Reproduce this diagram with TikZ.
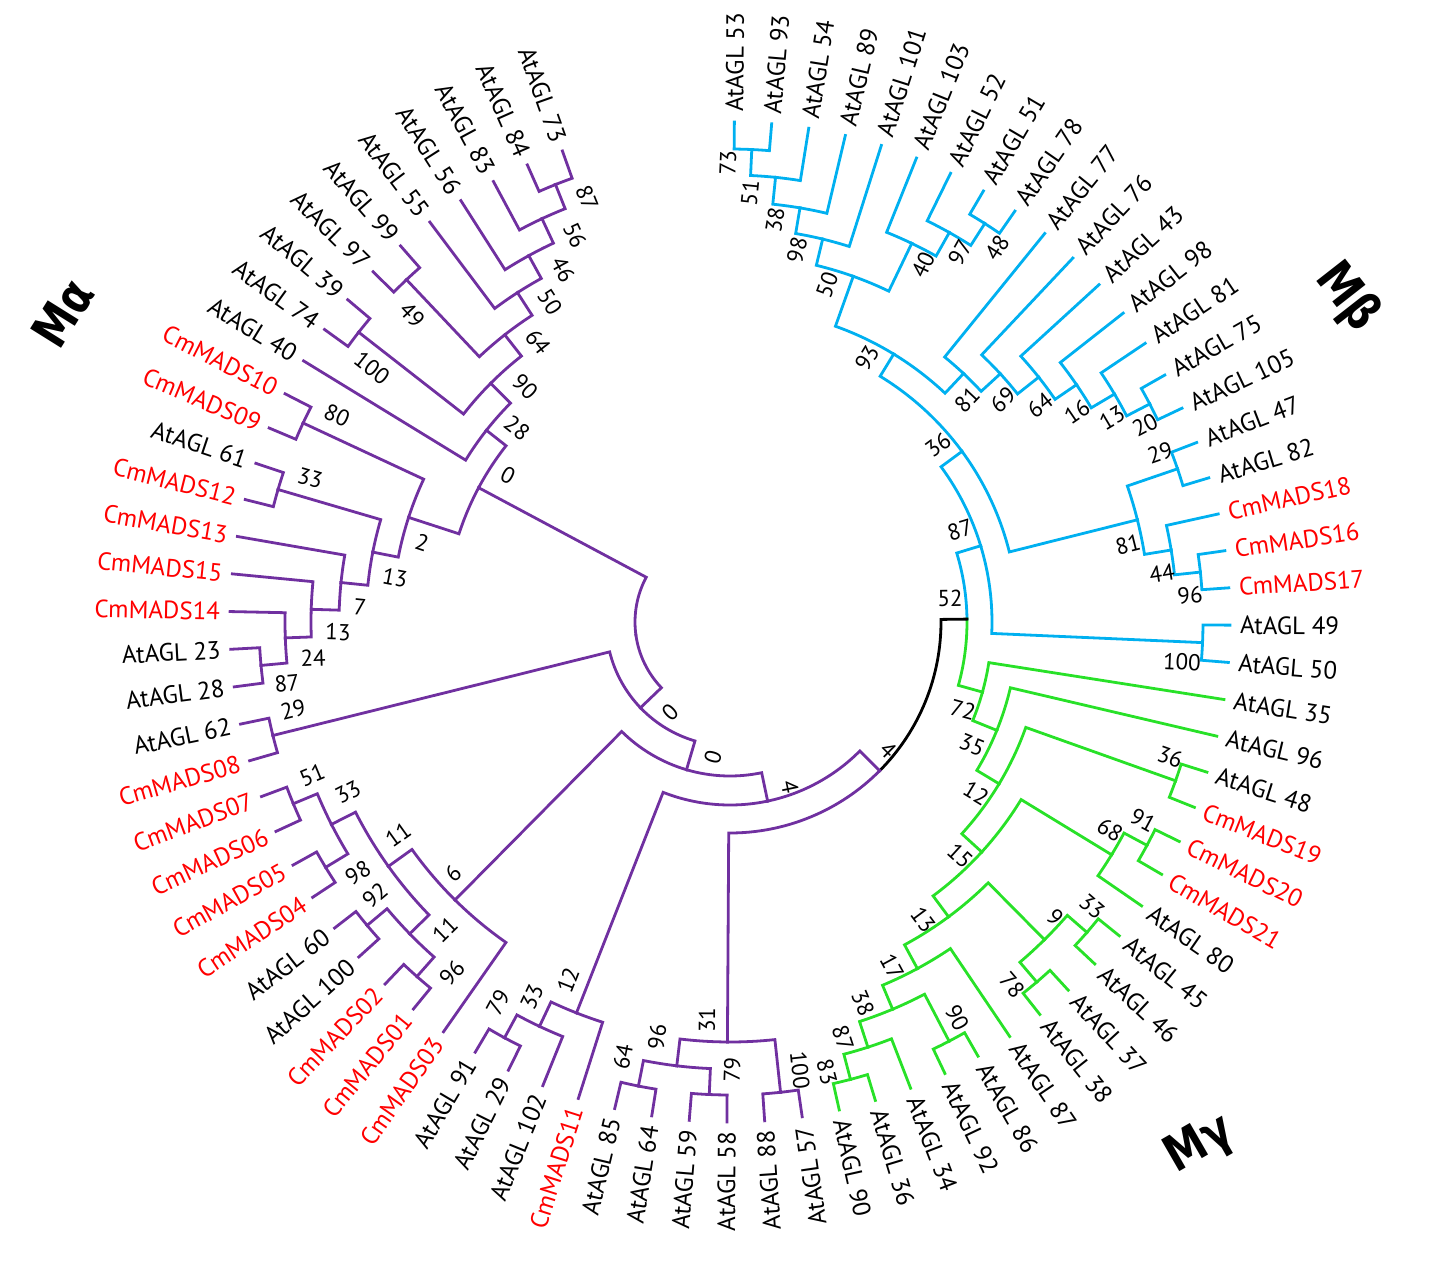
\documentclass[tikz,border=0pt]{standalone}
\usepackage{fontspec}
\setmainfont{PT Sans}
\newfontfamily\grpfont{DejaVu Sans}[FakeStretch=0.82]
\definecolor{pur}{RGB}{112,48,160}
\definecolor{blu}{RGB}{0,176,240}
\definecolor{grn}{RGB}{40,225,40}
\definecolor{cmred}{RGB}{255,0,0}
\tikzset{
  branch/.style={line width=2.8pt, line cap=rect},
  pb/.style={branch, draw=pur},
  bb/.style={branch, draw=blu},
  gb/.style={branch, draw=grn},
  kb/.style={branch, draw=black},
  leaflab/.style={inner sep=0pt, font=\fontsize{25}{30}\selectfont},
  bslab/.style={inner sep=0pt, font=\fontsize{23}{27}\selectfont},
  grplab/.style={inner sep=0pt, font=\grpfont\bfseries\fontsize{50}{60}\selectfont}
}
% node bookkeeping: angle and radius (centre of the circle is the origin)
\newcommand\setnode[3]{%
  \expandafter\xdef\csname nA@#1\endcsname{#2}%
  \expandafter\xdef\csname nR@#1\endcsname{#3}%
  \coordinate (#1) at (#2:#3);}
\newcommand\leaf[4]{%
  \pgfmathsetmacro\la{#1<40 ? 89.5-4.279*#1 : -81.7-4.326*(#1-40)}%
  \setnode{#2}{\la}{500}%
  \ifnum#1<40\relax
    \node[leaflab,text=#4,anchor=west,rotate=\la] (t#2) at (\la:510) {#3};%
  \else
    \pgfmathsetmacro\lr{\la+180}%
    \node[leaflab,text=#4,anchor=east,rotate=\lr] (t#2) at (\la:510) {#3};%
  \fi}
\newcommand\inner[4]{%
  \pgfmathsetmacro\ia{(\csname nA@#2\endcsname+\csname nA@#3\endcsname)/2}%
  \setnode{#1}{\ia}{#4}}
\newcommand\conn[3]{%
  \edef\myA{\csname nA@#2\endcsname}%
  \edef\myB{\csname nA@#3\endcsname}%
  \edef\myR{\csname nR@#2\endcsname}%
  \draw[#1] (#2) arc[start angle=\myA, end angle=\myB, radius=\myR] -- (#3);}
\newcommand\bs[4]{%
  \edef\myA{\csname nA@#1\endcsname}%
  \pgfmathsetmacro\br{\myA < -90 ? \myA+180 : \myA}%
  \node[bslab,rotate=\br] (bs#1) at (#3,-#4) {#2};}
\begin{document}
\begin{tikzpicture}[x=1pt,y=1pt]
\useasboundingbox (0,0) rectangle (1456,-1285);
\begin{scope}[shift={(730,-622)}]
% ---------------- leaves
\leaf{0}{L53}{AtAGL 53}{black}
\leaf{1}{L93}{AtAGL 93}{black}
\leaf{2}{L54}{AtAGL 54}{black}
\leaf{3}{L89}{AtAGL 89}{black}
\leaf{4}{L101}{AtAGL 101}{black}
\leaf{5}{L103}{AtAGL 103}{black}
\leaf{6}{L52}{AtAGL 52}{black}
\leaf{7}{L51}{AtAGL 51}{black}
\leaf{8}{L78}{AtAGL 78}{black}
\leaf{9}{L77}{AtAGL 77}{black}
\leaf{10}{L76}{AtAGL 76}{black}
\leaf{11}{L43}{AtAGL 43}{black}
\leaf{12}{L98}{AtAGL 98}{black}
\leaf{13}{L81}{AtAGL 81}{black}
\leaf{14}{L75}{AtAGL 75}{black}
\leaf{15}{L105}{AtAGL 105}{black}
\leaf{16}{L47}{AtAGL 47}{black}
\leaf{17}{L82}{AtAGL 82}{black}
\leaf{18}{C18}{CmMADS18}{cmred}
\leaf{19}{C16}{CmMADS16}{cmred}
\leaf{20}{C17}{CmMADS17}{cmred}
\leaf{21}{L49}{AtAGL 49}{black}
\leaf{22}{L50}{AtAGL 50}{black}
\leaf{23}{L35}{AtAGL 35}{black}
\leaf{24}{L96}{AtAGL 96}{black}
\leaf{25}{L48}{AtAGL 48}{black}
\leaf{26}{C19}{CmMADS19}{cmred}
\leaf{27}{C20}{CmMADS20}{cmred}
\leaf{28}{C21}{CmMADS21}{cmred}
\leaf{29}{L80}{AtAGL 80}{black}
\leaf{30}{L45}{AtAGL 45}{black}
\leaf{31}{L46}{AtAGL 46}{black}
\leaf{32}{L37}{AtAGL 37}{black}
\leaf{33}{L38}{AtAGL 38}{black}
\leaf{34}{L87}{AtAGL 87}{black}
\leaf{35}{L86}{AtAGL 86}{black}
\leaf{36}{L92}{AtAGL 92}{black}
\leaf{37}{L34}{AtAGL 34}{black}
\leaf{38}{L36}{AtAGL 36}{black}
\leaf{39}{L90}{AtAGL 90}{black}
\leaf{40}{L57}{AtAGL 57}{black}
\leaf{41}{L88}{AtAGL 88}{black}
\leaf{42}{L58}{AtAGL 58}{black}
\leaf{43}{L59}{AtAGL 59}{black}
\leaf{44}{L64}{AtAGL 64}{black}
\leaf{45}{L85}{AtAGL 85}{black}
\leaf{46}{C11}{CmMADS11}{cmred}
\leaf{47}{L102}{AtAGL 102}{black}
\leaf{48}{L29}{AtAGL 29}{black}
\leaf{49}{L91}{AtAGL 91}{black}
\leaf{50}{C03}{CmMADS03}{cmred}
\leaf{51}{C01}{CmMADS01}{cmred}
\leaf{52}{C02}{CmMADS02}{cmred}
\leaf{53}{L100}{AtAGL 100}{black}
\leaf{54}{L60}{AtAGL 60}{black}
\leaf{55}{C04}{CmMADS04}{cmred}
\leaf{56}{C05}{CmMADS05}{cmred}
\leaf{57}{C06}{CmMADS06}{cmred}
\leaf{58}{C07}{CmMADS07}{cmred}
\leaf{59}{C08}{CmMADS08}{cmred}
\leaf{60}{L62}{AtAGL 62}{black}
\leaf{61}{L28}{AtAGL 28}{black}
\leaf{62}{L23}{AtAGL 23}{black}
\leaf{63}{C14}{CmMADS14}{cmred}
\leaf{64}{C15}{CmMADS15}{cmred}
\leaf{65}{C13}{CmMADS13}{cmred}
\leaf{66}{C12}{CmMADS12}{cmred}
\leaf{67}{L61}{AtAGL 61}{black}
\leaf{68}{C09}{CmMADS09}{cmred}
\leaf{69}{C10}{CmMADS10}{cmred}
\leaf{70}{L40}{AtAGL 40}{black}
\leaf{71}{L74}{AtAGL 74}{black}
\leaf{72}{L39}{AtAGL 39}{black}
\leaf{73}{L97}{AtAGL 97}{black}
\leaf{74}{L99}{AtAGL 99}{black}
\leaf{75}{L55}{AtAGL 55}{black}
\leaf{76}{L56}{AtAGL 56}{black}
\leaf{77}{L83}{AtAGL 83}{black}
\leaf{78}{L84}{AtAGL 84}{black}
\leaf{79}{L73}{AtAGL 73}{black}
% ---------------- internal nodes (name, child, child, radius)
% M-beta
\inner{b73}{L53}{L93}{473}
\inner{b51}{b73}{L54}{447}
\inner{b38}{b51}{L89}{420}
\inner{b98}{b38}{L101}{394}
\inner{b48}{L51}{L78}{473}
\inner{b97}{L52}{b48}{447}
\inner{b40}{L103}{b97}{420}
\inner{b50}{b98}{b40}{367}
\inner{b20}{L75}{L105}{473}
\inner{b13}{L81}{b20}{447}
\inner{b16}{L98}{b13}{420}
\inner{b64}{L43}{b16}{394}
\inner{b69}{L76}{b64}{367}
\inner{b81}{L77}{b69}{341}
\inner{b93}{b50}{b81}{314}
\inner{b29}{L47}{L82}{473}
\inner{b96}{C16}{C17}{473}
\inner{b44}{C18}{b96}{447}
\inner{b81r}{b29}{b44}{420}
\inner{b36}{b93}{b81r}{288}
\inner{b100}{L49}{L50}{473}
\inner{b87}{b36}{b100}{262}
% M-gamma
\inner{g91}{C20}{C21}{473}
\inner{g68}{g91}{L80}{447}
\inner{g36}{L48}{C19}{473}
\inner{g33}{L45}{L46}{473}
\inner{g78}{L37}{L38}{473}
\inner{g9}{g33}{g78}{447}
\inner{g90}{L86}{L92}{473}
\inner{g83}{L36}{L90}{473}
\inner{g87}{L34}{g83}{447}
\inner{g38}{g90}{g87}{420}
\inner{g17}{L87}{g38}{394}
\inner{g13}{g9}{g17}{367}
\inner{g15}{g68}{g13}{341}
\inner{g12}{g36}{g15}{314}
\inner{g35}{L96}{g12}{288}
\inner{g72}{L35}{g35}{262}
\inner{k52}{b87}{g72}{237}
% M-alpha
\inner{p100b}{L57}{L88}{473}
\inner{p79}{L58}{L59}{473}
\inner{p64}{L64}{L85}{473}
\inner{p96}{p79}{p64}{447}
\inner{p31}{p100b}{p96}{420}
\inner{pF}{k52}{p31}{211}
\inner{p79b}{L29}{L91}{473}
\inner{p33}{L102}{p79b}{447}
\inner{p12}{C11}{p33}{420}
\inner{pE}{p12}{pF}{183}
\inner{p96b}{C01}{C02}{473}
\inner{p92}{L100}{L60}{473}
\inner{p11b}{p96b}{p92}{447}
\inner{p98}{C04}{C05}{473}
\inner{p51}{C06}{C07}{473}
\inner{p33b}{p98}{p51}{447}
\inner{p11a}{p11b}{p33b}{420}
\inner{p6}{C03}{p11a}{391}
\inner{pD}{p6}{pE}{154}
\inner{p29}{C08}{L62}{471}
\inner{pB}{p29}{pD}{124}
\inner{p87a}{L28}{L23}{471}
\inner{p24}{p87a}{C14}{445}
\inner{p13a}{p24}{C15}{419}
\inner{p7}{p13a}{C13}{391}
\inner{p33c}{C12}{L61}{471}
\inner{p13b}{p7}{p33c}{364}
\inner{p80}{C09}{C10}{471}
\inner{p2}{p13b}{p80}{338}
\inner{p100a}{L74}{L39}{471}
\inner{p49}{L97}{L99}{471}
\inner{p87b}{L84}{L73}{471}
\inner{p56}{L83}{p87b}{445}
\inner{p46}{L56}{p56}{418}
\inner{p50}{L55}{p46}{392}
\inner{p64a}{p49}{p50}{365}
\inner{p90}{p100a}{p64a}{338}
\inner{p28}{L40}{p90}{310}
\inner{pA}{p2}{p28}{285}
\inner{pRoot}{pA}{pB}{95}
% ---------------- branches
\conn{bb}{b73}{L53}\conn{bb}{b73}{L93}
\conn{bb}{b51}{b73}\conn{bb}{b51}{L54}
\conn{bb}{b38}{b51}\conn{bb}{b38}{L89}
\conn{bb}{b98}{b38}\conn{bb}{b98}{L101}
\conn{bb}{b48}{L51}\conn{bb}{b48}{L78}
\conn{bb}{b97}{L52}\conn{bb}{b97}{b48}
\conn{bb}{b40}{L103}\conn{bb}{b40}{b97}
\conn{bb}{b50}{b98}\conn{bb}{b50}{b40}
\conn{bb}{b20}{L75}\conn{bb}{b20}{L105}
\conn{bb}{b13}{L81}\conn{bb}{b13}{b20}
\conn{bb}{b16}{L98}\conn{bb}{b16}{b13}
\conn{bb}{b64}{L43}\conn{bb}{b64}{b16}
\conn{bb}{b69}{L76}\conn{bb}{b69}{b64}
\conn{bb}{b81}{L77}\conn{bb}{b81}{b69}
\conn{bb}{b93}{b50}\conn{bb}{b93}{b81}
\conn{bb}{b29}{L47}\conn{bb}{b29}{L82}
\conn{bb}{b96}{C16}\conn{bb}{b96}{C17}
\conn{bb}{b44}{C18}\conn{bb}{b44}{b96}
\conn{bb}{b81r}{b29}\conn{bb}{b81r}{b44}
\conn{bb}{b36}{b93}\conn{bb}{b36}{b81r}
\conn{bb}{b100}{L49}\conn{bb}{b100}{L50}
\conn{bb}{b87}{b36}\conn{bb}{b87}{b100}
\conn{bb}{k52}{b87}\conn{gb}{k52}{g72}
\conn{gb}{g91}{C20}\conn{gb}{g91}{C21}
\conn{gb}{g68}{g91}\conn{gb}{g68}{L80}
\conn{gb}{g36}{L48}\conn{gb}{g36}{C19}
\conn{gb}{g33}{L45}\conn{gb}{g33}{L46}
\conn{gb}{g78}{L37}\conn{gb}{g78}{L38}
\conn{gb}{g9}{g33}\conn{gb}{g9}{g78}
\conn{gb}{g90}{L86}\conn{gb}{g90}{L92}
\conn{gb}{g83}{L36}\conn{gb}{g83}{L90}
\conn{gb}{g87}{L34}\conn{gb}{g87}{g83}
\conn{gb}{g38}{g90}\conn{gb}{g38}{g87}
\conn{gb}{g17}{L87}\conn{gb}{g17}{g38}
\conn{gb}{g13}{g9}\conn{gb}{g13}{g17}
\conn{gb}{g15}{g68}\conn{gb}{g15}{g13}
\conn{gb}{g12}{g36}\conn{gb}{g12}{g15}
\conn{gb}{g35}{L96}\conn{gb}{g35}{g12}
\conn{gb}{g72}{L35}\conn{gb}{g72}{g35}
\conn{pb}{p100b}{L57}\conn{pb}{p100b}{L88}
\conn{pb}{p79}{L58}\conn{pb}{p79}{L59}
\conn{pb}{p64}{L64}\conn{pb}{p64}{L85}
\conn{pb}{p96}{p79}\conn{pb}{p96}{p64}
\conn{pb}{p31}{p100b}\conn{pb}{p31}{p96}
\conn{kb}{pF}{k52}\conn{pb}{pF}{p31}
\conn{pb}{p79b}{L29}\conn{pb}{p79b}{L91}
\conn{pb}{p33}{L102}\conn{pb}{p33}{p79b}
\conn{pb}{p12}{C11}\conn{pb}{p12}{p33}
\conn{pb}{pE}{p12}\conn{pb}{pE}{pF}
\conn{pb}{p96b}{C01}\conn{pb}{p96b}{C02}
\conn{pb}{p92}{L100}\conn{pb}{p92}{L60}
\conn{pb}{p11b}{p96b}\conn{pb}{p11b}{p92}
\conn{pb}{p98}{C04}\conn{pb}{p98}{C05}
\conn{pb}{p51}{C06}\conn{pb}{p51}{C07}
\conn{pb}{p33b}{p98}\conn{pb}{p33b}{p51}
\conn{pb}{p11a}{p11b}\conn{pb}{p11a}{p33b}
\conn{pb}{p6}{C03}\conn{pb}{p6}{p11a}
\conn{pb}{pD}{p6}\conn{pb}{pD}{pE}
\conn{pb}{p29}{C08}\conn{pb}{p29}{L62}
\conn{pb}{pB}{p29}\conn{pb}{pB}{pD}
\conn{pb}{p87a}{L28}\conn{pb}{p87a}{L23}
\conn{pb}{p24}{p87a}\conn{pb}{p24}{C14}
\conn{pb}{p13a}{p24}\conn{pb}{p13a}{C15}
\conn{pb}{p7}{p13a}\conn{pb}{p7}{C13}
\conn{pb}{p33c}{C12}\conn{pb}{p33c}{L61}
\conn{pb}{p13b}{p7}\conn{pb}{p13b}{p33c}
\conn{pb}{p80}{C09}\conn{pb}{p80}{C10}
\conn{pb}{p2}{p13b}\conn{pb}{p2}{p80}
\conn{pb}{p100a}{L74}\conn{pb}{p100a}{L39}
\conn{pb}{p49}{L97}\conn{pb}{p49}{L99}
\conn{pb}{p87b}{L84}\conn{pb}{p87b}{L73}
\conn{pb}{p56}{L83}\conn{pb}{p56}{p87b}
\conn{pb}{p46}{L56}\conn{pb}{p46}{p56}
\conn{pb}{p50}{L55}\conn{pb}{p50}{p46}
\conn{pb}{p64a}{p49}\conn{pb}{p64a}{p50}
\conn{pb}{p90}{p100a}\conn{pb}{p90}{p64a}
\conn{pb}{p28}{L40}\conn{pb}{p28}{p90}
\conn{pb}{pA}{p2}\conn{pb}{pA}{p28}
\conn{pb}{pRoot}{pA}\conn{pb}{pRoot}{pB}
\end{scope}
% ---------------- bootstrap values
\bs{b73}{73}{728}{163}
\bs{b51}{51}{750}{193}
\bs{b38}{38}{775}{220}
\bs{b98}{98}{797}{250}
\bs{b50}{50}{827}{285}
\bs{b93}{93}{867}{358}
\bs{b40}{40}{923}{265}
\bs{b97}{97}{960}{253}
\bs{b48}{48}{997}{248}
\bs{b81}{81}{967}{400}
\bs{b69}{69}{1003}{400}
\bs{b64}{64}{1040}{405}
\bs{b16}{16}{1077}{412}
\bs{b13}{13}{1112}{418}
\bs{b20}{20}{1145}{425}
\bs{b36}{36}{938}{445}
\bs{b29}{29}{1160}{453}
\bs{b81r}{81}{1128}{545}
\bs{b44}{44}{1162}{573}
\bs{b96}{96}{1190}{595}
\bs{b100}{100}{1182}{662}
\bs{b87}{87}{960}{530}
\bs{k52}{52}{950}{598}
\bs{g72}{72}{963}{710}
\bs{g35}{35}{972}{745}
\bs{g36}{36}{1170}{757}
\bs{g12}{12}{976}{793}
\bs{g68}{68}{1110}{830}
\bs{g91}{91}{1143}{820}
\bs{g15}{15}{960}{856}
\bs{g13}{13}{923}{920}
\bs{g9}{9}{1055}{917}
\bs{g33}{33}{1092}{907}
\bs{g78}{78}{1012}{985}
\bs{g17}{17}{892}{967}
\bs{g38}{38}{863}{1003}
\bs{g90}{90}{957}{1018}
\bs{g87}{87}{843}{1038}
\bs{g83}{83}{827}{1072}
\bs{p100b}{100}{800}{1070}
\bs{p79}{79}{732}{1070}
\bs{p31}{31}{707}{1020}
\bs{p96}{96}{657}{1037}
\bs{p64}{64}{623}{1057}
\bs{p12}{12}{568}{980}
\bs{p33}{33}{532}{997}
\bs{p79b}{79}{498}{1003}
\bs{pF}{4}{888}{750}
\bs{pE}{4}{790}{787}
\bs{pD}{0}{713}{757}
\bs{pB}{0}{670}{712}
\bs{pA}{0}{508}{475}
\bs{p6}{6}{453}{873}
\bs{p11b}{11}{445}{930}
\bs{p96b}{96}{452}{973}
\bs{p92}{92}{375}{895}
\bs{p98}{98}{358}{873}
\bs{p11a}{11}{398}{835}
\bs{p33b}{33}{348}{792}
\bs{p51}{51}{312}{775}
\bs{p29}{29}{293}{710}
\bs{p87a}{87}{287}{683}
\bs{p24}{24}{313}{658}
\bs{p13a}{13}{338}{632}
\bs{p7}{7}{360}{607}
\bs{p13b}{13}{395}{578}
\bs{p2}{2}{422}{543}
\bs{p33c}{33}{310}{478}
\bs{p80}{80}{337}{415}
\bs{p28}{28}{517}{428}
\bs{p90}{90}{525}{387}
\bs{p100a}{100}{372}{368}
\bs{p64a}{64}{538}{342}
\bs{p49}{49}{412}{315}
\bs{p50}{50}{550}{302}
\bs{p46}{46}{563}{270}
\bs{p56}{56}{575}{235}
\bs{p87b}{87}{587}{198}
% ---------------- group names
\node[grplab,rotate=58] (Ma) at (63,-313) {Mα};
\node[grplab,rotate=-52] (Mb) at (1347,-297) {Mβ};
\node[grplab,rotate=30] (Mg) at (1200,-1145) {Mγ};
\end{tikzpicture}
\end{document}
